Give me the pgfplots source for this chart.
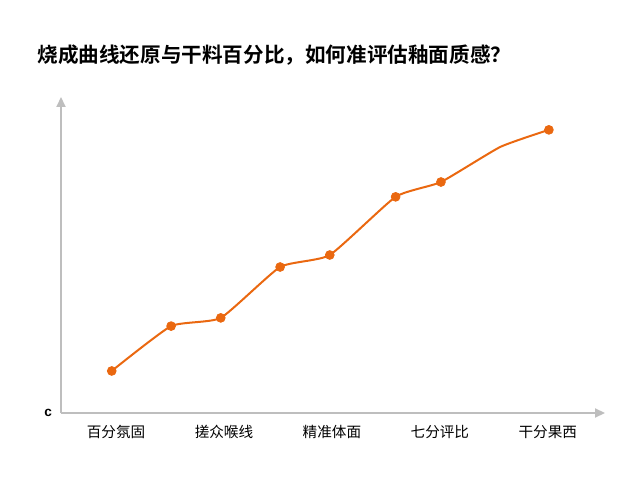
\documentclass[border=0pt]{standalone}
\usepackage{pgfplots}
\pgfplotsset{compat=1.18}
\usepackage{fontspec}
\setmainfont{Liberation Sans}
\newfontfamily\cjk{Noto Sans CJK SC}
\newfontfamily\cjkbold{Noto Sans CJK SC Bold}
\usetikzlibrary{arrows.meta}

\definecolor{lineorange}{RGB}{234,104,16}
\definecolor{axisgray}{RGB}{190,190,190}

\begin{document}
\begin{tikzpicture}
% 640 x 480 canvas, 1 px = 0.5pt
\path[use as bounding box] (0pt,0pt) rectangle (320pt,240pt);
\node[anchor=west, font=\cjkbold\fontsize{10.3pt}{12pt}\selectfont, inner sep=0pt]
  at (18.5pt,212.5pt) {烧成曲线还原与干料百分比，如何准评估釉面质感？};
\begin{axis}[
    at={(30.5pt,33.5pt)}, anchor=south west,
    scale only axis,
    width=272pt, height=158pt,
    xmin=-0.51, xmax=4.53,
    ymin=0, ymax=100,
    axis lines=left,
    axis line style={axisgray, line width=1pt, -{Triangle[length=5pt,width=4.5pt]}},
    xtick={0,1,2,3,4},
    xticklabels={百分氛固,搓众喉线,精准体面,七分评比,干分果西},
    x tick label style={font=\cjk\fontsize{7.3pt}{8.5pt}\selectfont, yshift=-2.5pt},
    ytick={0},
    yticklabels={c},
    y tick label style={font=\bfseries\fontsize{6.8pt}{8pt}\selectfont, xshift=-1pt},
    major tick length=0pt,
    clip=false,
]
\addplot[lineorange, line width=1pt, smooth, tension=0.3, mark=none] coordinates {
    (-0.04,13.3) (0.51,27.5) (0.97,30.1) (1.52,46.2) (1.98,50.0)
    (2.59,68.4) (3.01,73.1) (3.56,84.2) (4.01,89.6)
};
\addplot[only marks, mark=*, mark size=2.2pt, lineorange] coordinates {
    (-0.04,13.3) (0.51,27.5) (0.97,30.1) (1.52,46.2) (1.98,50.0)
    (2.59,68.4) (3.01,73.1) (4.01,89.6)
};
\end{axis}
\end{tikzpicture}
\end{document}
